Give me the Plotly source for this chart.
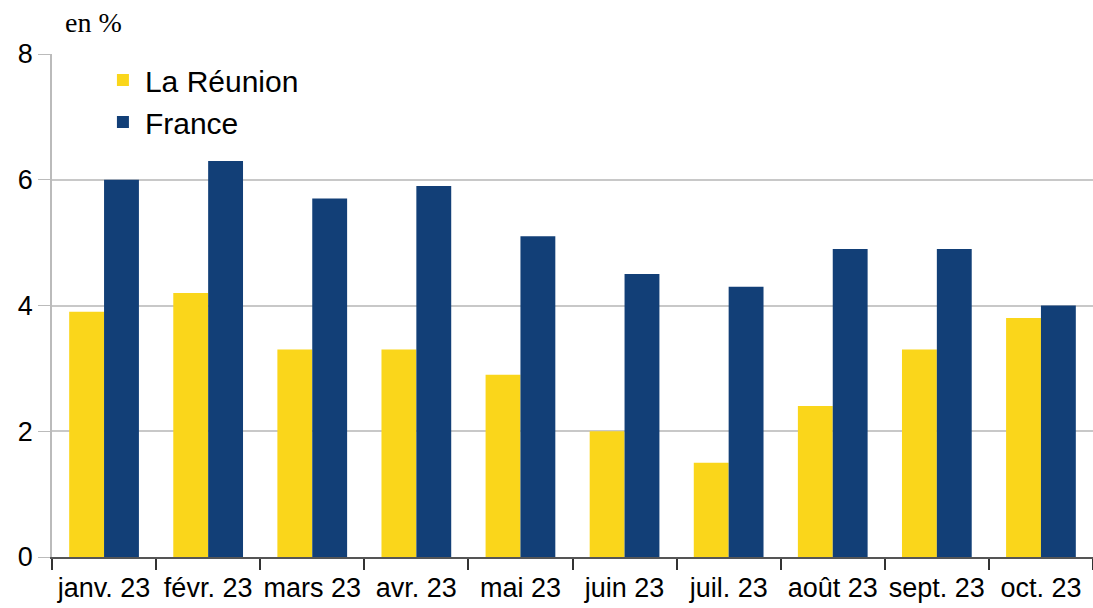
import plotly.graph_objects as go

mois = ['janv. 23', 'févr. 23', 'mars 23', 'avr. 23', 'mai 23',
        'juin 23', 'juil. 23', 'août 23', 'sept. 23', 'oct. 23']
reunion = [3.9, 4.2, 3.3, 3.3, 2.9, 2.0, 1.5, 2.4, 3.3, 3.8]
france = [6.0, 6.3, 5.7, 5.9, 5.1, 4.5, 4.3, 4.9, 4.9, 4.0]

fig = go.Figure()
fig.add_trace(go.Bar(x=mois, y=reunion, name='La Réunion',
                     marker=dict(color='#FAD61B', line_width=0)))
fig.add_trace(go.Bar(x=mois, y=france, name='France',
                     marker=dict(color='#123F77', line_width=0)))

fig.update_layout(
    width=1093, height=608,
    margin=dict(l=52, r=0, t=54, b=51, autoexpand=False),
    plot_bgcolor='white', paper_bgcolor='white',
    barmode='group', bargap=0.33, bargroupgap=0,
    font=dict(family='Liberation Sans, Arial', color='black'),
    legend=dict(x=0.047, y=1.0, xanchor='left', yanchor='top',
                font=dict(size=30), bgcolor='rgba(0,0,0,0)',
                itemwidth=34, tracegroupgap=0),
    annotations=[dict(text='en %', xref='paper', yref='paper',
                      x=0.0105, y=1.0, xanchor='left', yanchor='middle',
                      yshift=32, showarrow=False,
                      font=dict(family='Liberation Serif', size=28))],
)
fig.update_xaxes(
    type='category', tickson='boundaries', ticks='outside', ticklen=11,
    tickcolor='#333', tickwidth=1.5, showline=True, linecolor='#555',
    linewidth=1.5, tickfont=dict(size=27), tickangle=0, automargin=False,
    ticklabelstandoff=6, showgrid=False,
)
fig.update_yaxes(
    range=[0, 8], dtick=2, ticks='outside', ticklen=12, tickcolor='#bbb',
    showline=True, linecolor='#bbb', linewidth=1.5,
    showgrid=True, gridcolor='#c8c8c8', gridwidth=1.5,
    zeroline=False, tickfont=dict(size=27), automargin=False,
)

# pas de marge autour de la page : la figure occupe toute la fenêtre
fig.write_html("out.html", config={'displayModeBar': False},
               post_script="document.body.style.margin='0';")
